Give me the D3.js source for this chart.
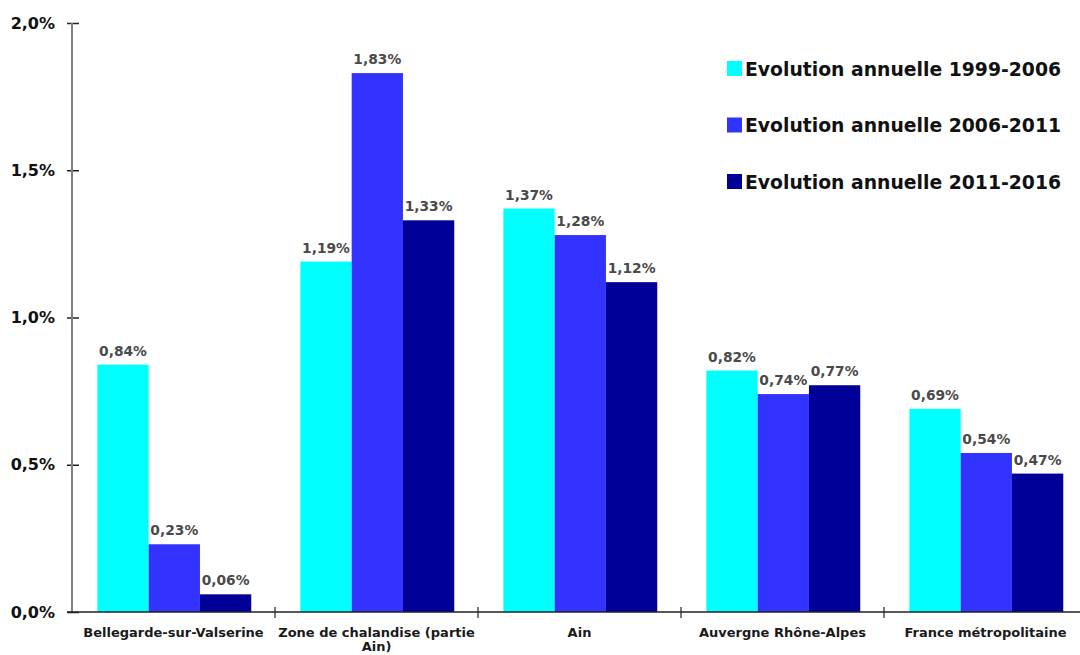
<!DOCTYPE html>
<html><head><meta charset="utf-8">
<script src="https://cdn.jsdelivr.net/npm/d3@7"></script>
<style>body{margin:0;background:#fff}svg{display:block}</style>
</head><body>
<svg id="c" width="1080" height="655"></svg>
<script>
const categories = ["Bellegarde-sur-Valserine","Zone de chalandise (partie Ain)","Ain","Auvergne Rhône-Alpes","France métropolitaine"];
const seriesNames = ["Evolution annuelle 1999-2006","Evolution annuelle 2006-2011","Evolution annuelle 2011-2016"];
const v1999_2006 = [0.84,1.19,1.37,0.82,0.69];
const v2006_2011 = [0.23,1.83,1.28,0.74,0.54];
const v2011_2016 = [0.06,1.33,1.12,0.77,0.47];
const yTicks = [0,0.5,1.0,1.5,2.0];
const colors = ["#00ffff","#3333ff","#000099"];

const seriesValues = [v1999_2006, v2006_2011, v2011_2016];
const svg = d3.select("#c");
const fmt = v => d3.format(".2f")(v).replace(".", ",") + "%";
const fmtTick = v => d3.format(".1f")(v).replace(".", ",") + "%";

const x0 = d3.scaleBand().domain(categories).range([72, 1087]).padding(0);
const bw = x0.bandwidth();
const x1 = d3.scaleBand().domain(seriesNames).range([bw*0.125, bw*0.125 + bw*0.758]).padding(0);
const y = d3.scaleLinear().domain([0, 2]).range([612, 23]);

// bars
const g = svg.append("g");
categories.forEach((cat, ci) => {
  seriesNames.forEach((s, si) => {
    const v = seriesValues[si][ci];
    const bx = x0(cat) + x1(s);
    g.append("rect").attr("x", bx).attr("y", y(v)).attr("width", x1.bandwidth()).attr("height", y(0) - y(v)).attr("fill", colors[si]);
    g.append("text").attr("x", bx + x1.bandwidth()/2).attr("y", y(v) - 9)
      .attr("text-anchor", "middle").attr("font-family", "DejaVu Sans").attr("font-weight", "bold")
      .attr("font-size", "13.8px").attr("fill", "#4a4a4a").text(fmt(v));
  });
});

// y axis
const yAxis = d3.axisLeft(y).tickValues(yTicks).tickFormat(fmtTick).tickSize(0).tickPadding(0);
const ya = svg.append("g").attr("transform", "translate(72,0)").call(yAxis);
ya.select(".domain").remove();
ya.selectAll(".tick text").attr("x", -17).attr("font-family", "DejaVu Sans").attr("font-weight", "bold").attr("font-size", "16px").attr("fill", "#111");
ya.selectAll(".tick").append("line").attr("x1", -5).attr("x2", 7).attr("stroke", "#222").attr("stroke-width", 1.5);
svg.append("line").attr("x1", 72).attr("x2", 72).attr("y1", y(2)).attr("y2", y(0)).attr("stroke", "#808080").attr("stroke-width", 2);

// x axis
svg.append("line").attr("x1", 67).attr("x2", 1080).attr("y1", y(0)).attr("y2", y(0)).attr("stroke", "#222").attr("stroke-width", 1.5);
categories.slice(1).forEach(c => {
  svg.append("line").attr("x1", x0(c)).attr("x2", x0(c)).attr("y1", y(0) - 5).attr("y2", y(0) + 6).attr("stroke", "#222").attr("stroke-width", 1.2);
});
const xa = svg.append("g");
categories.forEach(c => {
  const t = xa.append("text").attr("x", x0(c) + bw/2).attr("y", 637).attr("text-anchor", "middle")
    .attr("font-family", "DejaVu Sans").attr("font-weight", "bold").attr("font-size", "13px").attr("fill", "#1a1a1a");
  const words = c.split(" ");
  let line = [], lineNo = 0;
  let tspan = t.append("tspan").attr("x", x0(c) + bw/2).attr("dy", 0);
  words.forEach(w => {
    line.push(w);
    tspan.text(line.join(" "));
    if (tspan.node().getComputedTextLength() > 200 && line.length > 1) {
      line.pop(); tspan.text(line.join(" "));
      line = [w]; lineNo++;
      tspan = t.append("tspan").attr("x", x0(c) + bw/2).attr("dy", "14px").text(w);
    }
  });
});

// legend
const leg = svg.append("g");
seriesNames.forEach((s, i) => {
  const ly = 69 + i*56.5;
  leg.append("rect").attr("x", 727).attr("y", ly - 8).attr("width", 15).attr("height", 15).attr("fill", colors[i]);
  leg.append("text").attr("x", 745).attr("y", ly).attr("dy", "0.35em")
    .attr("font-family", "DejaVu Sans").attr("font-weight", "bold").attr("font-size", "18.8px").attr("fill", "#111").text(s);
});
</script>
</body></html>
